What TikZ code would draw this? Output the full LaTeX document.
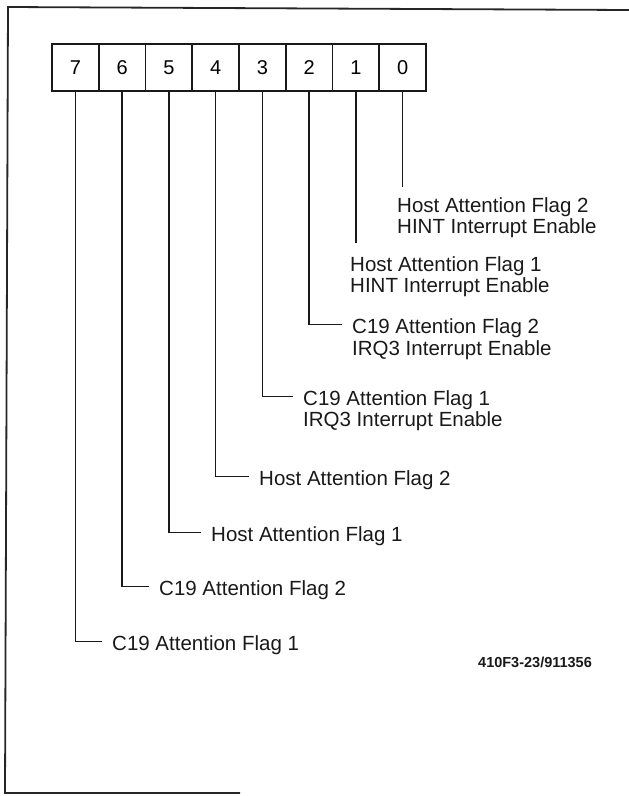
\documentclass[tikz,border=0pt]{standalone}
\usepackage{fontspec}
\setmainfont{Liberation Sans}
\usetikzlibrary{calc}
\begin{document}
\begin{tikzpicture}[x=1pt,y=-1pt,
  bitbox/.style={draw=black!90, line width=1.6pt, minimum width=46.75pt, minimum height=47pt, inner sep=0pt, font=\fontsize{20}{24}\selectfont},
  lbl/.style={anchor=base west, inner sep=0pt, text=black!90, font=\fontsize{20.5}{24}\selectfont},
  wire/.style={draw=black!90, line width=1.4pt},
  frameline/.style={draw=black!85, line width=1.8pt},
  figid/.style={anchor=base west, inner sep=0pt, text=black!90, font=\bfseries\fontsize{14.5}{16}\selectfont}]
\useasboundingbox (0,0) rectangle (629,796);
% frame
\draw[frameline] (629,10) -- (8,7) -- (5,793) -- (240,793);
% register boxes
\foreach \b [count=\i from 0] in {7,6,5,4,3,2,1,0}
  \node[bitbox] (b\b) at ({52+46.75*(\i+0.5)}, 67.5) {\b};
% labels
\node[lbl] (l0a) at (397,212) {Host Attention Flag 2};
\node[lbl] (l0b) at (397,233) {HINT Interrupt Enable};
\node[lbl] (l1a) at (350,271) {Host Attention Flag 1};
\node[lbl] (l1b) at (350,292) {HINT Interrupt Enable};
\node[lbl] (l2a) at (352,333) {C19 Attention Flag 2};
\node[lbl] (l2b) at (352,355) {IRQ3 Interrupt Enable};
\node[lbl] (l3a) at (303,405) {C19 Attention Flag 1};
\node[lbl] (l3b) at (303,426) {IRQ3 Interrupt Enable};
\node[lbl] (l4) at (259,485) {Host Attention Flag 2};
\node[lbl] (l5) at (211,541) {Host Attention Flag 1};
\node[lbl] (l6) at (159,595) {C19 Attention Flag 2};
\node[lbl] (l7) at (112,650) {C19 Attention Flag 1};
\node[figid] (fid) at (478,667) {410F3-23/911356};
% connectors
\coordinate (e0) at (b0.south |- 0,187);
\coordinate (e1) at (b1.south |- 0,243);
\draw[wire] (b0.south) -- (e0);
\draw[wire] (b1.south) -- (e1);
\foreach \b/\l in {2/l2a,3/l3a,4/l4,5/l5,6/l6,7/l7}
  \draw[wire] (b\b.south) |- ($(\l.base west)+(-10,-8.5)$);
\end{tikzpicture}
\end{document}
